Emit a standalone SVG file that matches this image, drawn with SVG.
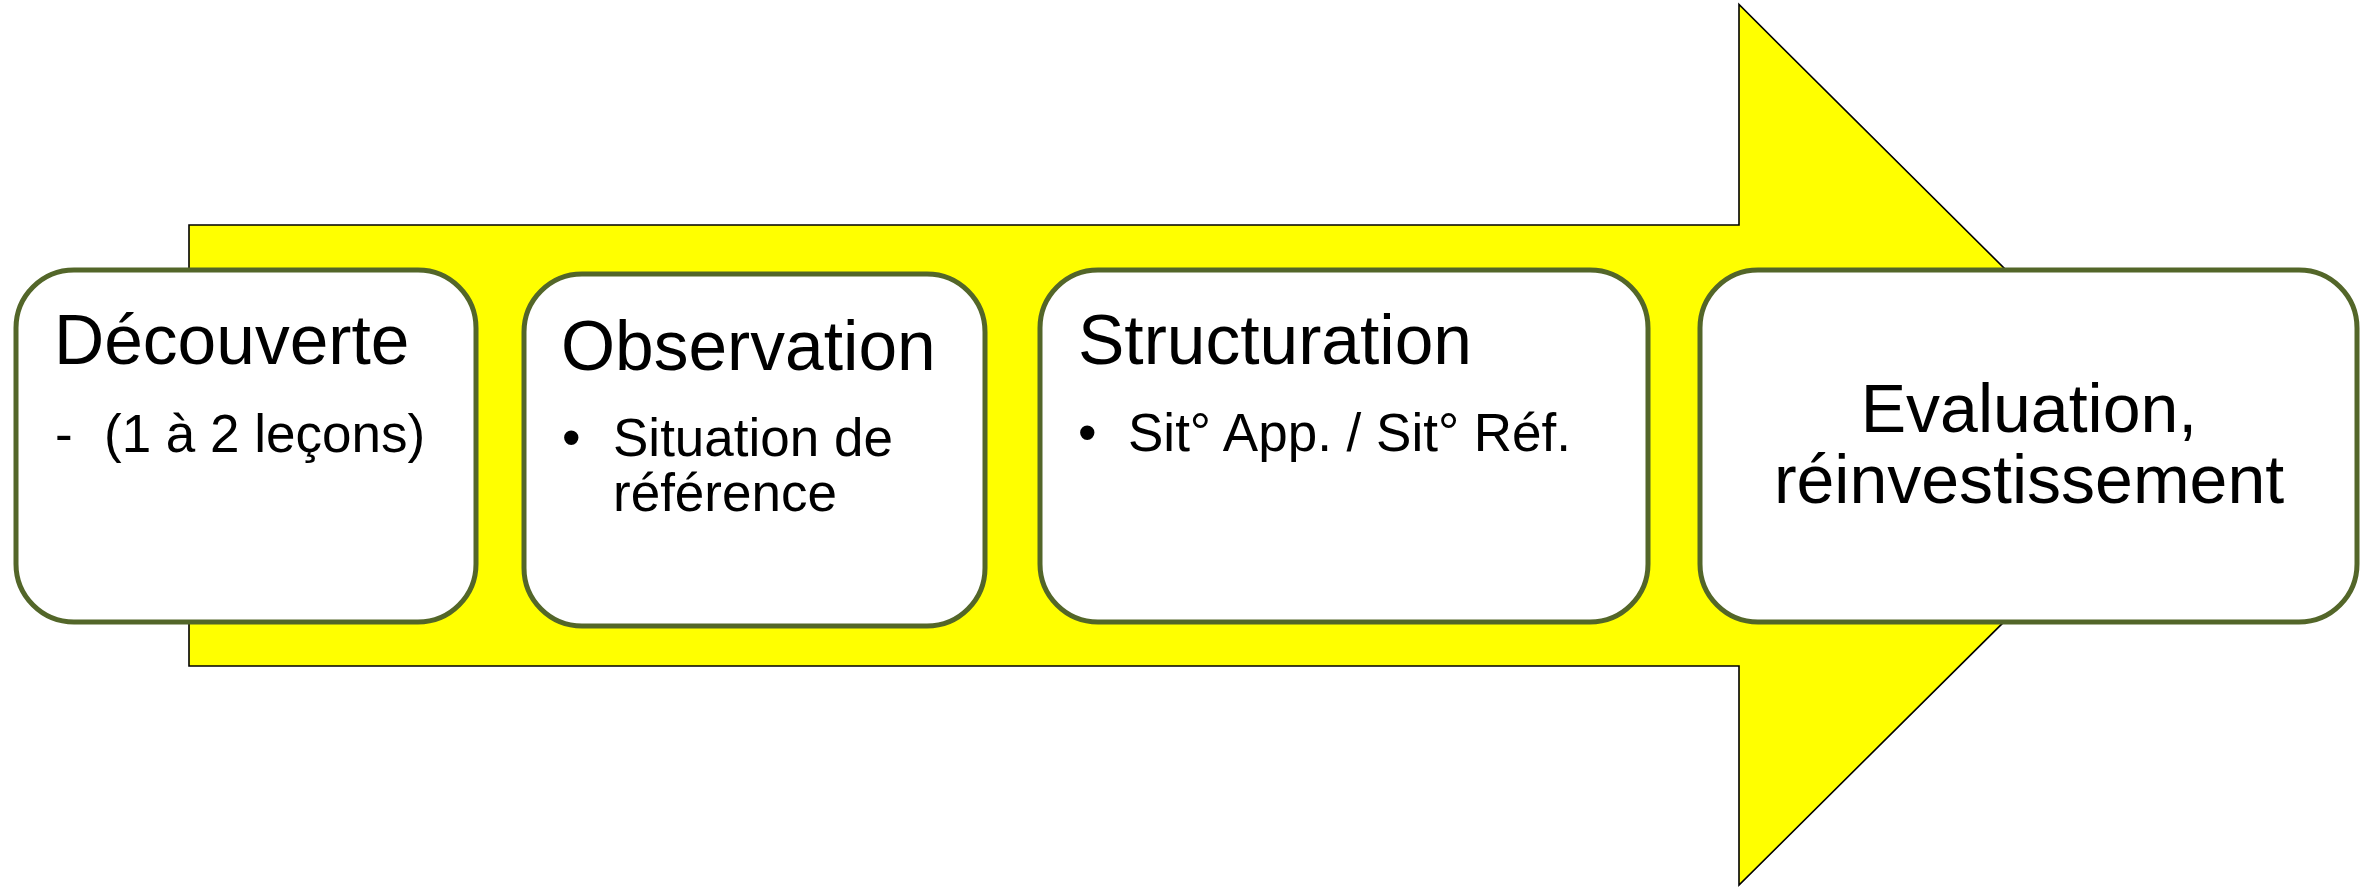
<svg xmlns="http://www.w3.org/2000/svg" width="2372" height="887" viewBox="0 0 2372 887">
  <style>
    .box { fill: #FFFFFF; stroke: #536629; stroke-width: 5; }
    .t { font-family: "Liberation Sans", Arial, sans-serif; fill: #000000; }
    .title { font-size: 69.5px; }
    .eval { font-size: 68px; }
    .sub { font-size: 53px; }
  </style>
  <rect x="0" y="0" width="2372" height="887" fill="#FFFFFF"/>
  <g id="arrow">
    <polygon points="189,225 1739,225 1739,4.5 2182,445 1739,885 1739,666 189,666" fill="#FFFF00" stroke="#000000" stroke-width="1.6" stroke-linejoin="miter"/>
  </g>
  <g id="connectors"></g>
  <g id="node-decouverte">
    <rect class="box" x="16" y="270" width="460" height="352" rx="58" ry="58"/>
    <text class="t title" x="54" y="364">Découverte</text>
    <text class="t sub" x="55" y="452">-</text>
    <text class="t sub" x="104" y="452">(1 à 2 leçons)</text>
  </g>
  <g id="node-observation">
    <rect class="box" x="524" y="274" width="461" height="352" rx="58" ry="58"/>
    <text class="t title" x="561" y="370">Observation</text>
    <text class="t sub" x="562" y="456">•</text>
    <text class="t sub" x="613" y="456">Situation de</text>
    <text class="t sub" x="613" y="511">référence</text>
  </g>
  <g id="node-structuration">
    <rect class="box" x="1040" y="270" width="608" height="352" rx="58" ry="58"/>
    <text class="t title" x="1078" y="364">Structuration</text>
    <text class="t sub" x="1078" y="451">•</text>
    <text class="t sub" x="1128" y="451">Sit° App. / Sit° Réf.</text>
  </g>
  <g id="node-evaluation">
    <rect class="box" x="1700" y="270" width="657" height="352" rx="58" ry="58"/>
    <text class="t eval" x="2029" y="432" text-anchor="middle">Evaluation,</text>
    <text class="t eval" x="2029" y="503" text-anchor="middle">réinvestissement</text>
  </g>
</svg>
